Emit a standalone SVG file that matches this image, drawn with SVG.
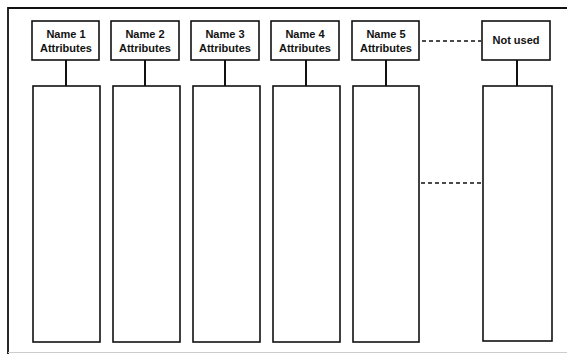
<svg xmlns="http://www.w3.org/2000/svg" width="570" height="354" viewBox="0 0 570 354">
<style>
.box{fill:#fff;stroke:#111;stroke-width:1.6}
.col{fill:#fff;stroke:#111;stroke-width:1.6}
.stem{stroke:#111;stroke-width:2}
.dash{stroke:#111;stroke-width:1.5;stroke-dasharray:4 3;fill:none}
.frame{stroke:#111;stroke-width:1.8;fill:none}
text{font-family:"Liberation Sans",Arial,sans-serif;font-weight:bold;font-size:11px;fill:#111;text-anchor:middle}
</style>
<rect width="570" height="354" fill="#fff"/>
<g id="frame">
<polyline class="frame" points="567,8 8,8 8,354"/>
<line x1="8" y1="352.5" x2="567" y2="352.5" stroke="#ccc" stroke-width="1"/>
</g>
<g id="connectors">
<line class="stem" x1="66" y1="60" x2="66" y2="86"/>
<line class="stem" x1="145" y1="60" x2="145" y2="86"/>
<line class="stem" x1="225" y1="60" x2="225" y2="86"/>
<line class="stem" x1="306" y1="60" x2="306" y2="86"/>
<line class="stem" x1="386" y1="60" x2="386" y2="86"/>
<line class="stem" x1="517" y1="60" x2="517" y2="86"/>
<line class="dash" x1="422" y1="41" x2="481" y2="41"/>
<line class="dash" x1="421" y1="183" x2="482" y2="183"/>
</g>
<g id="node1"><rect class="box" x="32" y="21" width="67" height="39"/><text x="66" y="38">Name 1</text><text x="66" y="52">Attributes</text></g>
<g id="node2"><rect class="box" x="111" y="21" width="68" height="39"/><text x="145" y="38">Name 2</text><text x="145" y="52">Attributes</text></g>
<g id="node3"><rect class="box" x="191" y="21" width="68" height="39"/><text x="225" y="38">Name 3</text><text x="225" y="52">Attributes</text></g>
<g id="node4"><rect class="box" x="271" y="21" width="68" height="39"/><text x="305" y="38">Name 4</text><text x="305" y="52">Attributes</text></g>
<g id="node5"><rect class="box" x="352" y="21" width="67" height="39"/><text x="386" y="38">Name 5</text><text x="386" y="52">Attributes</text></g>
<g id="node6"><rect class="box" x="482" y="21" width="68" height="39"/><text x="516" y="44">Not used</text></g>
<g id="col1"><rect class="col" x="33" y="86" width="67" height="256"/></g>
<g id="col2"><rect class="col" x="113" y="86" width="67" height="256"/></g>
<g id="col3"><rect class="col" x="193" y="86" width="67" height="256"/></g>
<g id="col4"><rect class="col" x="273" y="86" width="67" height="256"/></g>
<g id="col5"><rect class="col" x="353" y="86" width="66" height="256"/></g>
<g id="col6"><rect class="col" x="483" y="86" width="69" height="255"/></g>
</svg>
